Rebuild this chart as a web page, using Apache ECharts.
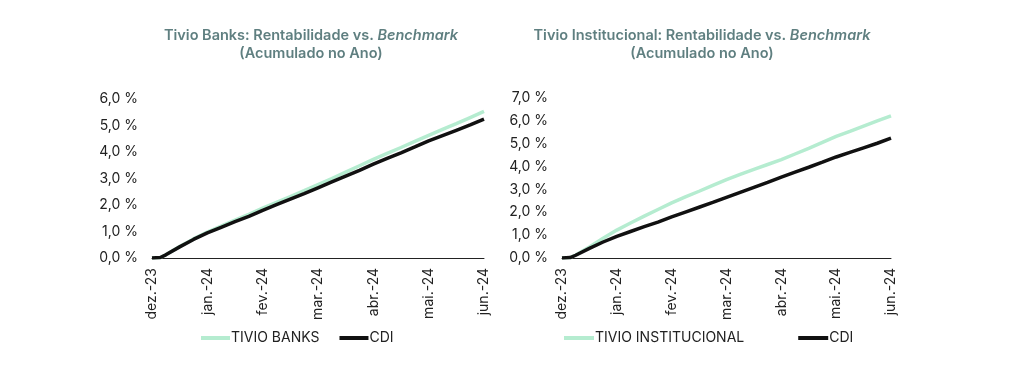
<!DOCTYPE html>
<html>
<head>
<meta charset="utf-8">
<script src="https://cdn.jsdelivr.net/npm/echarts@6/dist/echarts.min.js"></script>
<style>
  html, body { margin: 0; padding: 0; background: #fff; }
  #chart { width: 1024px; height: 377px; }
</style>
</head>
<body>
<div id="chart"></div>
<script>
// months elapsed since end of dez.-23 (tick = month end)
var months = [0, 0.15, 0.25, 0.5, 0.75, 1, 1.25, 1.5, 1.75, 2, 2.25, 2.5, 2.75,
              3, 3.25, 3.5, 3.75, 4, 4.25, 4.5, 4.75, 5, 5.25, 5.5, 5.75, 6];
var monthLabels = ['dez.-23', 'jan.-24', 'fev.-24', 'mar.-24', 'abr.-24', 'mai.-24', 'jun.-24'];

var cdi = [0, 0.02, 0.12, 0.42, 0.7, 0.95, 1.16, 1.37, 1.57, 1.8, 2.01, 2.22, 2.43,
           2.65, 2.87, 3.09, 3.31, 3.54, 3.76, 3.97, 4.19, 4.42, 4.62, 4.82, 5.02, 5.24];
var tivioBanks = [0, 0.02, 0.12, 0.43, 0.72, 0.98, 1.2, 1.43, 1.65, 1.88, 2.1, 2.32, 2.54,
                  2.77, 3.0, 3.24, 3.48, 3.72, 3.95, 4.17, 4.4, 4.63, 4.85, 5.07, 5.3, 5.53];
var tivioInst = [0, 0.02, 0.13, 0.48, 0.86, 1.22, 1.53, 1.83, 2.12, 2.41, 2.67, 2.92, 3.18,
                 3.43, 3.66, 3.88, 4.09, 4.3, 4.55, 4.8, 5.06, 5.32, 5.54, 5.77, 6.0, 6.22];

function pairs(vals) {
    var out = [];
    for (var i = 0; i < vals.length; i++) out.push([months[i], vals[i]]);
    return out;
}

var green = '#b5ecd0';
var dark = '#111111';
var font = 'Inter, "Open Sans", sans-serif';

function xAxisFor(idx) {
    return {
        type: 'value', gridIndex: idx, min: 0, max: 6, interval: 1,
        axisLine: { show: true, onZero: false, lineStyle: { color: '#222', width: 1 } },
        axisTick: { show: false },
        splitLine: { show: false },
        axisLabel: {
            rotate: 90, margin: 10, fontSize: 14, color: '#222', fontFamily: font,
            formatter: function (v) { return monthLabels[Math.round(v)]; }
        }
    };
}
function yAxisFor(idx, max) {
    return {
        type: 'value', gridIndex: idx, min: 0, max: max, interval: 1,
        axisLine: { show: false }, axisTick: { show: false }, splitLine: { show: false },
        axisLabel: {
            margin: 14, fontSize: 14, color: '#222', fontFamily: font,
            formatter: function (v) { return v.toFixed(1).replace('.', ',') + ' %'; }
        }
    };
}
function titleFor(name, cx) {
    return {
        text: '{b|' + name + ': Rentabilidade vs. }{i|Benchmark}\n{b|(Acumulado no Ano)}',
        left: cx, top: 22, textAlign: 'center',
        textStyle: {
            rich: {
                b: { fontSize: 14.5, fontWeight: 600, color: '#5f7f80', fontFamily: font, lineHeight: 18 },
                i: { fontSize: 14.5, fontWeight: 600, fontStyle: 'italic', color: '#5f7f80', fontFamily: font, lineHeight: 18 }
            }
        }
    };
}
function lineSeries(name, vals, color, idx) {
    return {
        name: name, type: 'line', xAxisIndex: idx, yAxisIndex: idx,
        data: pairs(vals), symbol: 'none', smooth: false,
        lineStyle: { color: color, width: 3.5 }, itemStyle: { color: color }
    };
}
var legendText = { fontSize: 14, color: '#222', fontFamily: font, padding: [0, 0, 0, -4] };

var option = {
    animation: false,
    title: [titleFor('Tivio Banks', 306), titleFor('Tivio Institucional', 697)],
    grid: [
        { left: 152, top: 99, width: 332, height: 159 },
        { left: 562, top: 98, width: 329, height: 160 }
    ],
    xAxis: [xAxisFor(0), xAxisFor(1)],
    yAxis: [yAxisFor(0, 6), yAxisFor(1, 7)],
    legend: [
        { data: ['TIVIO BANKS', 'CDI'], left: 196, top: 326, icon: 'rect', itemWidth: 29, itemHeight: 4, itemGap: 20,
          textStyle: legendText },
        { data: ['TIVIO INSTITUCIONAL', 'CDI'], left: 559, top: 326, icon: 'rect', itemWidth: 30, itemHeight: 4, itemGap: 54,
          textStyle: legendText }
    ],
    series: [
        lineSeries('TIVIO BANKS', tivioBanks, green, 0),
        lineSeries('CDI', cdi, dark, 0),
        lineSeries('TIVIO INSTITUCIONAL', tivioInst, green, 1),
        lineSeries('CDI', cdi, dark, 1)
    ]
};

var chart = echarts.init(document.getElementById('chart'));
chart.setOption(option);
</script>
</body>
</html>
